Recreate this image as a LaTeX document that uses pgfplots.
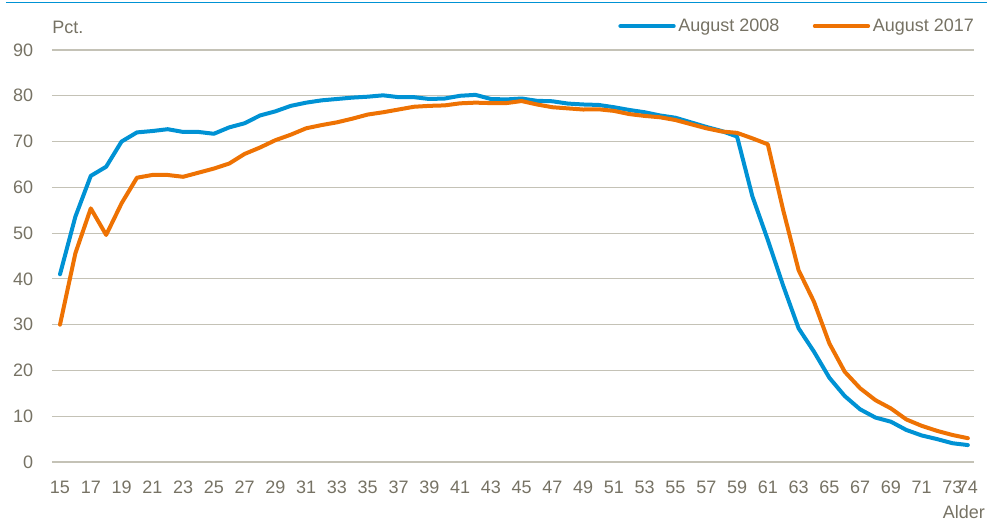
\documentclass[border=0pt]{standalone}
\usepackage{fontspec}
\setmainfont{Liberation Sans}
\usepackage{pgfplots}
\pgfplotsset{compat=1.18}
\definecolor{cblue}{RGB}{0,146,212}
\definecolor{corange}{RGB}{238,114,3}
\definecolor{ctext}{RGB}{118,114,100}
\definecolor{cgrid}{RGB}{196,194,182}
\begin{document}
\begin{tikzpicture}
\useasboundingbox (-39pt,-43.5pt) rectangle (701.25pt,346.5pt);
\begin{axis}[
  scale only axis,
  width=691.5pt, height=309pt,
  xmin=14.48, xmax=74.4, ymin=0, ymax=90,
  xtick={15,17,...,73,74},
  ytick={0,10,...,90},
  ymajorgrids,
  grid style={cgrid, line width=0.9pt},
  axis line style={draw=none},
  major tick length=0pt,
  /pgf/number format/assume math mode=true,
  ticklabel style={font=\fontsize{13.5}{16}\selectfont, text=ctext},
  xticklabel style={anchor=north, inner sep=0pt, yshift=-14pt},
  yticklabel style={anchor=east, inner sep=0pt, xshift=-14pt},
  legend columns=2,
  legend style={draw=none, fill=none, at={(axis description cs:0.614,1.058)}, anchor=west,
    inner sep=0pt, font=\fontsize{13.5}{16}\selectfont, text=ctext,
    /tikz/every even column/.append style={column sep=23pt}},
  legend image code/.code={\draw[#1, line width=3pt, line cap=round] (0pt,0pt) -- (40pt,0pt);},
  clip=false,
]
\addplot[cblue, line width=3pt, line join=round, line cap=round] coordinates {
(15,41) (16,53.6) (17,62.5) (18,64.5) (19,70) (20,72) (21,72.3) (22,72.7) (23,72.1) (24,72.1)
(25,71.7) (26,73.1) (27,74) (28,75.7) (29,76.6) (30,77.8) (31,78.5) (32,79) (33,79.3) (34,79.6)
(35,79.8) (36,80.1) (37,79.7) (38,79.7) (39,79.3) (40,79.4) (41,80) (42,80.2) (43,79.3) (44,79.2)
(45,79.4) (46,78.9) (47,78.8) (48,78.3) (49,78.1) (50,78) (51,77.5) (52,76.9) (53,76.4) (54,75.7)
(55,75.2) (56,74.2) (57,73.2) (58,72.3) (59,71.1) (60,58) (61,48.5) (62,38.5) (63,29.2) (64,24.1)
(65,18.4) (66,14.4) (67,11.5) (68,9.7) (69,8.8) (70,7) (71,5.8) (72,5) (73,4.1) (74,3.7)
};
\addlegendentry{August 2008}
\addplot[corange, line width=3pt, line join=round, line cap=round] coordinates {
(15,30) (16,45.6) (17,55.4) (18,49.6) (19,56.5) (20,62.1) (21,62.7) (22,62.7) (23,62.3) (24,63.2)
(25,64.1) (26,65.2) (27,67.3) (28,68.7) (29,70.3) (30,71.5) (31,72.9) (32,73.6) (33,74.2) (34,75)
(35,75.9) (36,76.4) (37,77) (38,77.6) (39,77.8) (40,77.9) (41,78.35) (42,78.5) (43,78.4) (44,78.4)
(45,78.85) (46,78.1) (47,77.5) (48,77.25) (49,77) (50,77.05) (51,76.7) (52,76) (53,75.6) (54,75.3)
(55,74.7) (56,73.8) (57,72.9) (58,72.2) (59,71.9) (60,70.7) (61,69.4) (62,55) (63,41.9) (64,35)
(65,25.9) (66,19.7) (67,16.1) (68,13.5) (69,11.7) (70,9.3) (71,7.9) (72,6.8) (73,5.9) (74,5.2)
};
\addlegendentry{August 2017}
\node[anchor=base west, inner sep=0pt, text=ctext, font=\fontsize{13.5}{16}\selectfont] at (axis description cs:0.0,1.039) {Pct.};
\node[anchor=base east, inner sep=0pt, text=ctext, font=\fontsize{13.5}{16}\selectfont] at (axis description cs:1.012,-0.136) {Alder};
\end{axis}
\draw[cblue, line width=1.2pt] (-34.5pt,344.5pt) -- (701.25pt,344.5pt);
\end{tikzpicture}
\end{document}
